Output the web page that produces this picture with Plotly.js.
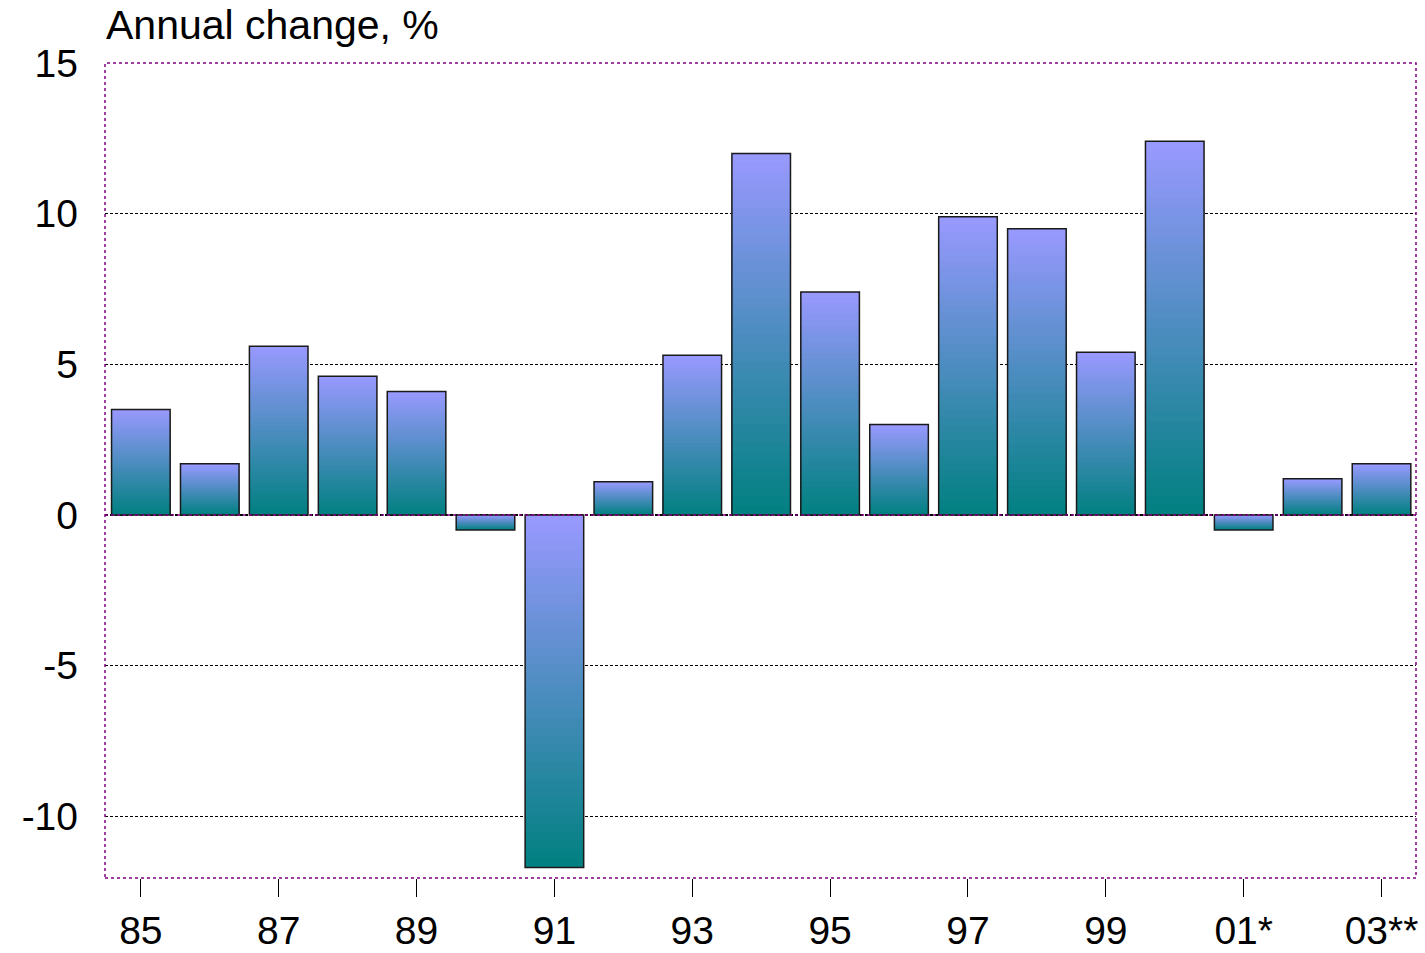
<!DOCTYPE html>
<html>
<head>
<meta charset="utf-8">
<script src="https://cdn.plot.ly/plotly-3.0.1.min.js"></script>
<style>html,body{margin:0;padding:0;background:#fff;}#chart{width:1425px;height:953px;}</style>
</head>
<body>
<div id="chart"></div>
<script>
// Data
const years = [1985,1986,1987,1988,1989,1990,1991,1992,1993,1994,1995,1996,1997,1998,1999,2000,2001,2002,2003];
const values = [3.5,1.7,5.6,4.6,4.1,-0.5,-11.7,1.1,5.3,12.0,7.4,3.0,9.9,9.5,5.4,12.4,-0.5,1.2,1.7];
const tickYears = [1985,1987,1989,1991,1993,1995,1997,1999,2001,2003];
const tickLabels = ["85","87","89","91","93","95","97","99","01*","03**"];
const yTicks = [-10,-5,0,5,10,15];
const yTickLabels = ["-10","-5","0","5","10","15"];

const topColor = [153,153,255];
const bottomColor = [0,128,128];
const NB = 40;

function lerpColor(t){
  const c = topColor.map((a,i)=>Math.round(a + (bottomColor[i]-a)*t));
  return `rgb(${c[0]},${c[1]},${c[2]})`;
}

const traces = [];
// Each band spans from its own top edge down to the bar's bottom; later bands overlay earlier ones (no seams)
for (let j = 0; j < NB; j++) {
  const bases = [], heights = [];
  values.forEach(v => {
    const top = Math.max(v,0), bot = Math.min(v,0), span = top - bot;
    const hi = top - span*j/NB;
    bases.push(bot); heights.push(hi - bot);
  });
  traces.push({
    type:'bar', x: years, y: heights, base: bases, width: 0.85,
    marker:{color: lerpColor((j+0.5)/NB), line:{width:0}},
    hoverinfo:'skip', showlegend:false
  });
}
// outline
traces.push({
  type:'bar', x: years, y: values, width: 0.85,
  marker:{color:'rgba(0,0,0,0)', line:{color:'#1a1a1a', width:1.5}},
  showlegend:false, hovertemplate:'%{x}: %{y}%<extra></extra>'
});

const font = {family:'"Liberation Sans", Arial, sans-serif', size:39, color:'#000'};

const layout = {
  width:1425, height:953,
  margin:{l:105, r:9, t:63, b:75},
  paper_bgcolor:'#fff', plot_bgcolor:'#fff',
  barmode:'overlay',
  font: font,
  title:{text:'Annual change, %', xref:'container', yref:'container', x:106/1425, xanchor:'left', y:1-25/953, yanchor:'middle', font:{family:font.family, size:41, color:'#000'}},
  xaxis:{range:[1984.48,2003.5], tickvals:tickYears, ticktext:tickLabels, ticks:'outside', ticklen:18, tickcolor:'#000', tickwidth:1,
         showgrid:false, zeroline:false, showline:false, tickfont:font},
  yaxis:{range:[-12.05,15], tickvals:yTicks, ticktext:yTickLabels, ticks:'', showgrid:true, gridcolor:'#000', griddash:'3px,2px', gridwidth:1.2,
         zeroline:false, showline:false, tickfont:font, ticklabelstandoff:26},
  shapes:[
    {type:'line', xref:'paper', x0:0, x1:1, yref:'y', y0:0, y1:0, line:{color:'#800080', width:1.5, dash:'dot'}},
    {type:'rect', xref:'paper', yref:'paper', x0:0, x1:1, y0:0, y1:1, line:{color:'#800080', width:1.5, dash:'dot'}, layer:'above'}
  ]
};

Plotly.newPlot('chart', traces, layout, {displayModeBar:false, staticPlot:true});
</script>
</body>
</html>
